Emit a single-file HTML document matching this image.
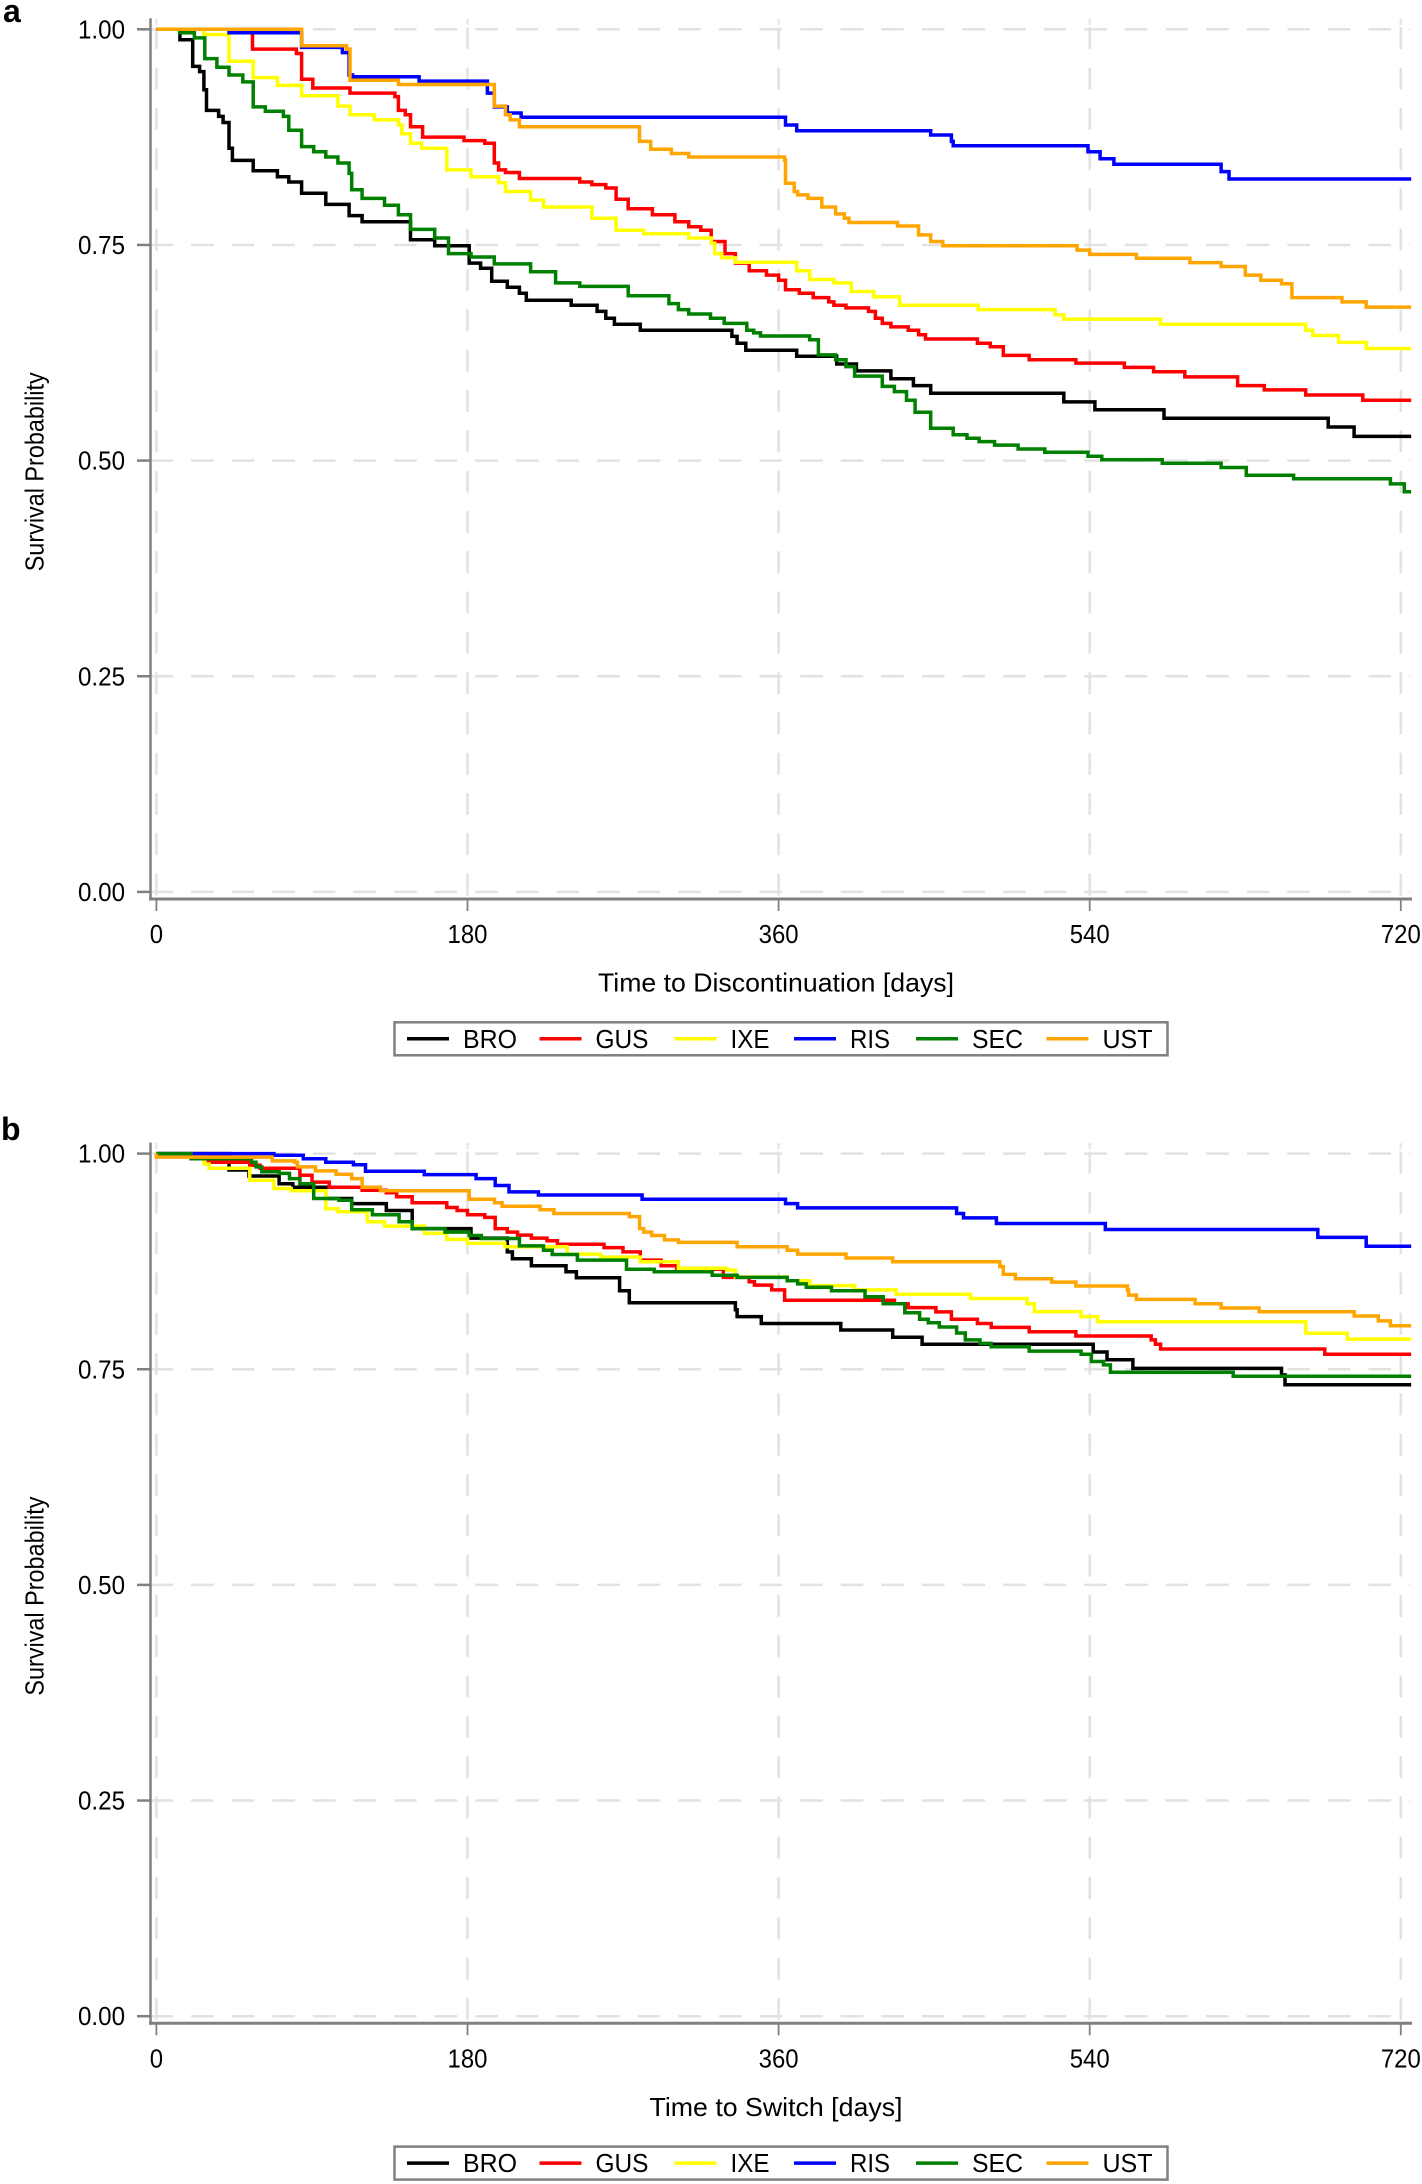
<!DOCTYPE html>
<html lang="en">
<head>
<meta charset="utf-8">
<title>Survival curves</title>
<style>
html,body{margin:0;padding:0;background:#fff;}
svg{display:block;}
text{font-family:"Liberation Sans",sans-serif;fill:#000;}
</style>
</head>
<body>
<svg id="chart" xmlns="http://www.w3.org/2000/svg" width="1422" height="2184" viewBox="0 0 1422 2184">
<rect x="0" y="0" width="1422" height="2184" fill="#fff"/>
<text x="3" y="22" font-size="32" font-weight="bold">a</text>
<text x="1" y="1140" font-size="32" font-weight="bold">b</text>
</svg>
<script>
// Shared axis values
const xTicks = [0, 180, 360, 540, 720];
const yTicks = [0, 0.25, 0.5, 0.75, 1];
const yTickLabels = ["0.00", "0.25", "0.50", "0.75", "1.00"];
const seriesNames = ["BRO", "GUS", "IXE", "RIS", "SEC", "UST"];
const seriesColors = ["#000000", "#ff0000", "#ffff00", "#0000ff", "#008000", "#ffa500"];
const lastDay = 726;

// Panel a: [day, survival] step points
const aBRO = [[13.6,.988],[21,.957],[25,.951],[27.5,.930],[29,.906],[36,.899],[38.6,.892],[42,.862],[44,.848],[56,.836],[70,.829],[76.6,.823],[84,.810],[98,.797],[111.5,.784],[119,.777],[147,.756],[161,.749],[181,.729],[187.6,.723],[194,.708],[203,.701],[210,.694],[214,.686],[240,.680],[255,.673],[260,.665],[265,.658],[280,.651],[333,.644],[336,.636],[341,.628],[370.5,.621],[393.6,.612],[405,.604],[425,.595],[438,.587],[448,.578],[525,.568],[543,.559],[583,.549],[678,.539],[693,.528]];
const aGUS = [[55.6,.977],[81,.972],[84,.942],[90.5,.932],[112,.926],[138,.922],[140,.906],[144,.901],[147,.887],[154,.875],[178,.871],[190,.868],[195.5,.845],[198,.837],[202,.834],[210,.827],[245,.823],[252,.820],[260,.816],[266,.803],[273,.792],[287,.785],[300,.777],[308,.771],[315,.767],[321,.754],[329,.740],[335,.729],[343,.720],[353,.715],[360,.709],[364,.698],[372,.694],[380,.689],[389,.684],[392,.680],[399,.677],[412,.673],[416,.665],[420,.659],[425,.655],[435,.651],[441,.646],[445,.641],[475,.636],[482.5,.632],[490,.622],[505,.617],[532,.613],[560,.608],[577,.603],[595,.597],[625.6,.587],[641,.582],[665,.576],[698,.570]];
const aIXE = [[27.5,.994],[42,.963],[56,.944],[70,.935],[84,.923],[105,.911],[112,.901],[126,.895],[140,.889],[142,.879],[147,.868],[153.5,.862],[168,.837],[182,.829],[198,.822],[202,.812],[216.5,.802],[224,.794],[252,.781],[266,.767],[282,.763],[308,.758],[321,.752],[323,.740],[327,.735],[335,.730],[370.5,.720],[378,.710],[392,.706],[402,.696],[415,.690],[430,.680],[475.5,.675],[520,.669],[525,.664],[581,.658],[665,.651],[669,.645],[684,.637],[700,.630]];
const aRIS = [[42,.996],[84,.979],[107.6,.973],[111.5,.947],[113.5,.945],[152,.940],[191.5,.926],[195.5,.910],[203,.903],[211,.898],[364,.889],[370.5,.8825],[448,.8775],[460,.870],[461,.865],[539,.858],[546,.850],[554,.8435],[616,.835],[620.6,.8265]];
const aSEC = [[13.6,.996],[22,.990],[28,.966],[35,.956],[42,.947],[50,.939],[56,.910],[63,.905],[73.5,.899],[76.6,.883],[84,.864],[91,.858],[98,.852],[105,.845],[111.5,.833],[113,.814],[119,.804],[132,.796],[140,.785],[147,.768],[161,.758],[169,.740],[182,.736],[195.5,.728],[216.5,.719],[231,.706],[245,.702],[273,.691],[296.5,.682],[302,.675],[308,.670],[320.6,.665],[328.5,.659],[341.6,.651],[345.6,.648],[349.5,.6445],[378,.640],[383,.6225],[393,.617],[399,.609],[404,.598],[420,.586],[427,.580],[434,.570],[439,.556],[448,.5375],[461,.530],[469,.526],[476,.522],[485,.518],[498.6,.5135],[514,.5097],[539,.505],[547,.501],[582,.497],[616,.492],[630.6,.483],[658,.479],[714,.473],[722,.464]];
const aUST = [[84,.981],[110,.977],[112,.941],[140,.936],[195.5,.911],[202,.901],[204.7,.895],[210,.887],[279.5,.870],[286,.861],[298,.856],[308,.852],[363.4,.8485],[364,.8215],[369,.812],[371,.808],[377,.804],[385,.794],[393,.786],[398,.781],[400.7,.776],[428.8,.772],[441,.7616],[448,.754],[455,.749],[532.7,.744],[540,.739],[567,.7345],[598,.7295],[616,.725],[630,.715],[639,.709],[651,.705],[657,.689],[686,.684],[700,.678]];

// Panel b: [day, survival] step points
const bBRO = [[42,.981],[53.5,.974],[71,.965],[79,.961],[98,.948],[113,.942],[133,.934],[148,.913],[182,.902],[203,.886],[206,.878],[217,.870],[237,.863],[243,.856],[268,.841],[273.6,.827],[335,.819],[336,.811],[350,.803],[396,.7955],[426,.787],[443,.779],[542,.770],[550,.761],[565,.751],[651,.7435],[653,.732]];
const bGUS = [[30,.990],[54,.9865],[60,.983],[83,.975],[90,.967],[100,.961],[119,.9575],[133,.9545],[139,.950],[148,.943],[168,.9375],[174,.934],[180,.929],[190,.926],[196,.913],[203,.909],[209,.9055],[217,.902],[226,.899],[232,.895],[259,.891],[270,.886],[280,.8765],[292,.870],[301,.866],[328,.8565],[343,.8515],[346,.8475],[356,.842],[363.5,.830],[427,.826],[435,.8215],[451,.8165],[460,.808],[475,.803],[483,.7985],[505,.7935],[532,.7885],[575.6,.784],[578,.779],[581,.7735],[676,.7675]];
const bIXE = [[27.6,.988],[30.5,.983],[54,.969],[68,.9595],[78,.957],[98,.936],[105,.9325],[122,.921],[132,.916],[155,.9075],[168,.9005],[180,.896],[201.6,.892],[237.6,.8835],[257,.88],[280,.8746],[302,.867],[330,.865],[335,.857],[365,.8525],[378,.847],[404,.842],[428,.837],[471,.832],[503.7,.826],[508,.8168],[535,.811],[544.6,.805],[665,.7917],[689,.785]];
const bRIS = [[68,.998],[85,.994],[98,.990],[114,.987],[121,.9795],[155,.9757],[185,.971],[196,.963],[204,.9556],[221,.952],[281,.947],[364,.942],[371,.937],[463,.9306],[467,.9255],[486,.919],[549,.912],[672,.9028],[700,.8927]];
const bSEC = [[20,.994],[55,.990],[57.6,.9846],[61,.979],[71,.977],[77,.971],[83,.965],[91,.948],[105.6,.946],[113,.935],[125,.929],[140.4,.921],[148,.913],[167,.909],[181,.905],[188,.9016],[210,.893],[224,.888],[229,.883],[243.6,.8765],[272,.866],[288,.863],[321.6,.859],[336,.8565],[365,.8525],[371,.849],[376,.845],[390.6,.841],[410,.834],[420.5,.826],[433,.8156],[441.6,.808],[446.6,.804],[453,.799],[463,.792],[468,.784],[476.5,.780],[483,.776],[505,.771],[535,.7675],[541,.759],[548,.755],[552,.7465],[623,.742]];
const bUST = [[0,.996],[67,.9915],[80,.990],[81.6,.9846],[92,.980],[104,.976],[113,.971],[119,.961],[129.6,.957],[181,.947],[195.6,.943],[200,.939],[222,.935],[230,.9306],[273.6,.927],[279.6,.913],[282,.909],[286.6,.905],[294,.9],[302,.897],[336,.892],[365,.888],[371,.8835],[399,.879],[426,.8746],[488,.869],[490,.860],[497,.855],[518,.851],[532,.8465],[561.8,.842],[562.5,.836],[567,.831],[601,.826],[616,.821],[638,.8167],[693,.8117],[707,.806],[714,.8005]];

const svg = document.getElementById('chart');
const NS = 'http://www.w3.org/2000/svg';
const xScale = d => 156.4 + d * 311.1 / 180;

function node(tag, parent) {
  const el = document.createElementNS(NS, tag);
  parent.appendChild(el);
  return el;
}
function line(parent, x1, y1, x2, y2, color, width, dash) {
  const el = node('line', parent);
  el.setAttribute('x1', x1);
  el.setAttribute('y1', y1);
  el.setAttribute('x2', x2);
  el.setAttribute('y2', y2);
  el.setAttribute('stroke', color);
  el.setAttribute('stroke-width', width);
  if (dash) el.setAttribute('stroke-dasharray', dash);
  return el;
}
function label(parent, x, y, str, anchor, size, width) {
  const el = node('text', parent);
  el.setAttribute('x', x);
  el.setAttribute('y', y);
  el.setAttribute('text-anchor', anchor);
  el.setAttribute('font-size', size);
  if (width) {
    el.setAttribute('textLength', width);
    el.setAttribute('lengthAdjust', 'spacingAndGlyphs');
  }
  el.textContent = str;
  return el;
}

function drawPanel(prefix, top, allSeries, xTitle, xTitleWidth) {
  const yScale = s => top + (1 - s) * 862.6;
  const axisY = top + 869.7;
  const plot = node('g', svg);
  
  

  yTicks.forEach((t, i) => {
    const g = line(plot, 150.5, yScale(t), 1410, yScale(t), '#e2e2e2', 2.5, '22.6 18');
    
    
    const tk = line(plot, 137, yScale(t), 150, yScale(t), '#808080', 2.5);
    
    
    const lb = label(plot, 125, yScale(t) + 9, yTickLabels[i], 'end', 25.5, 47);
    
    
  });

  xTicks.forEach(t => {
    const px = xScale(t);
    const g = line(plot, px, top - 2, px, axisY, '#e2e2e2', 2.5, '22 18.3');
    
    
    const stub = line(plot, px, top - 10.5, px, top - 4.5, '#e8e8e8', 2.5);
    
    
    const tk = line(plot, px, axisY, px, axisY + 12, '#808080', 1.8);
    
    
    const lb = label(plot, px, axisY + 44, String(t), 'middle', 25.5, String(t).length * 13.3);
    
    
  });

  const ax = line(plot, 150.5, top - 11, 150.5, axisY + 1.5, '#808080', 2.5);
  
  
  const bx = line(plot, 149, axisY, 1412, axisY, '#808080', 3);
  
  

  allSeries.forEach((points, i) => {
    let d = 'M' + xScale(0) + ' ' + yScale(1);
    points.forEach(p => {
      d += 'H' + xScale(p[0]).toFixed(1) + 'V' + yScale(p[1]).toFixed(1);
    });
    d += 'H' + xScale(lastDay);
    const path = node('path', plot);
    path.setAttribute('d', d);
    path.setAttribute('fill', 'none');
    path.setAttribute('stroke', seriesColors[i]);
    path.setAttribute('stroke-width', 3.5);
    path.setAttribute('stroke-linejoin', 'miter');
    
    
  });

  const yt = label(plot, 0, 0, 'Survival Probability', 'middle', 26, 199);
  yt.setAttribute('transform', 'translate(43.5 ' + (top + 442.5) + ') rotate(-90)');
  
  

  const xt = label(plot, 776, axisY + 92.5, xTitle, 'middle', 26, xTitleWidth);
  
  

  const legendTop = top + 993;
  const legend = node('g', svg);
  
  
  const box = node('rect', legend);
  box.setAttribute('x', 394.5);
  box.setAttribute('y', legendTop);
  box.setAttribute('width', 773);
  box.setAttribute('height', 33);
  box.setAttribute('fill', '#fff');
  box.setAttribute('stroke', '#808080');
  box.setAttribute('stroke-width', 2.5);
  
  
  const legendStart = [407, 539.5, 674.5, 794, 916, 1046.5];
  const legendTextWidth = [54, 53, 39, 40, 51, 50];
  seriesNames.forEach((name, i) => {
    const x0 = legendStart[i];
    const ln = line(legend, x0, legendTop + 16.5, x0 + 42, legendTop + 16.5, seriesColors[i], 3.5);
    
    
    const tx = label(legend, x0 + 56, legendTop + 25.5, name, 'start', 25.5, legendTextWidth[i]);
    
    
  });
}

drawPanel('panel-a', 29.3, [aBRO, aGUS, aIXE, aRIS, aSEC, aUST], 'Time to Discontinuation [days]', 356);
drawPanel('panel-b', 1153.6, [bBRO, bGUS, bIXE, bRIS, bSEC, bUST], 'Time to Switch [days]', 253);
</script>
</body>
</html>
